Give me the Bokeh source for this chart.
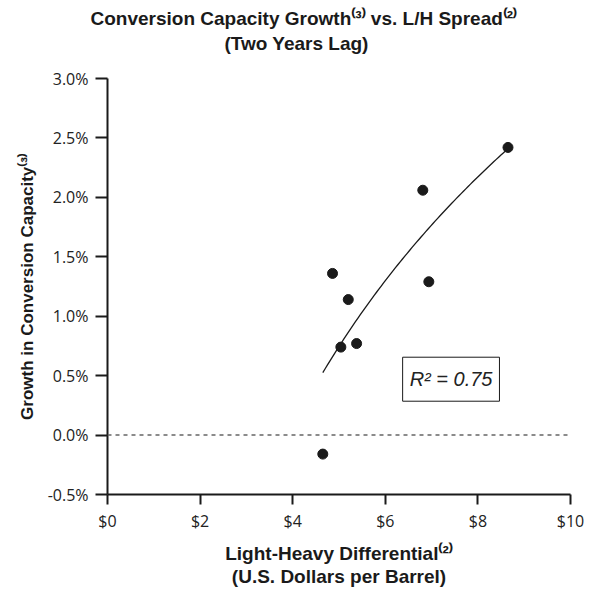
import numpy as np
from bokeh.plotting import figure
from bokeh.models import Range1d, Label, Span, PrintfTickFormatter, FixedTicker, Title
from bokeh.embed import file_html
from bokeh.resources import INLINE

# Data
spread = [4.86, 5.20, 5.04, 5.38, 8.65, 6.81, 6.94, 4.65]      # Light-heavy differential ($/bbl)
growth = [1.36, 1.14, 0.74, 0.77, 2.42, 2.06, 1.29, -0.16]     # Growth in conversion capacity (%)
x_ticks = [0, 2, 4, 6, 8, 10]
y_ticks = [-0.5, 0.0, 0.5, 1.0, 1.5, 2.0, 2.5, 3.0]
r2_text = "R\u00b2 = 0.75"
title_line1 = "Conversion Capacity Growth\u207d\u00b3\u207e vs. L/H Spread\u207d\u00b2\u207e"
title_line2 = "(Two Years Lag)"
x_title = "Light-Heavy Differential\u207d\u00b2\u207e\n(U.S. Dollars per Barrel)"
y_title = "Growth in Conversion Capacity\u207d\u00b3\u207e"

# logarithmic trend line fitted to the data
lx = np.log(np.array(spread))
b, a = np.polyfit(lx, np.array(growth), 1)
tx = np.linspace(min(spread), max(spread), 80)
ty = a + b * np.log(tx)

p = figure(width=591, height=595, output_backend="svg", toolbar_location=None,
           x_range=Range1d(0, 10), y_range=Range1d(-0.5, 3.0),
           min_border_left=107, min_border_right=21, min_border_top=78,
           min_border_bottom=101, title=None)
p.outline_line_color = None
p.xgrid.visible = False
p.ygrid.visible = False
p.background_fill_color = "white"
p.border_fill_color = "white"

tick_font = "Open Sans"
for ax in (p.xaxis[0], p.yaxis[0]):
    ax.axis_line_width = 2
    ax.axis_line_color = "#1a1a1a"
    ax.major_tick_line_width = 2
    ax.major_tick_line_color = "#1a1a1a"
    ax.major_tick_in = 0
    ax.minor_tick_line_color = None
    ax.major_label_text_font = tick_font
    ax.major_label_text_font_size = "16px"
    ax.major_label_text_color = "#222222"

p.xaxis.ticker = FixedTicker(ticks=x_ticks)
p.xaxis.formatter = PrintfTickFormatter(format="$%d")
p.xaxis.major_tick_out = 10
p.xaxis.major_label_standoff = 5
p.xaxis.axis_label = x_title
p.xaxis.axis_label_text_font = "Liberation Sans"
p.xaxis.axis_label_text_font_style = "bold"
p.xaxis.axis_label_text_font_size = "19px"
p.xaxis.axis_label_text_line_height = 1.1
p.xaxis.axis_label_text_color = "#1a1a1a"
p.xaxis.axis_label_standoff = 8

p.yaxis.ticker = FixedTicker(ticks=y_ticks)
p.yaxis.formatter = PrintfTickFormatter(format="%.1f%%")
p.yaxis.major_tick_out = 12
p.yaxis.major_label_standoff = 7
p.yaxis.axis_label = y_title
p.yaxis.axis_label_text_font = "Liberation Sans"
p.yaxis.axis_label_text_font_style = "bold"
p.yaxis.axis_label_text_font_size = "17px"
p.yaxis.axis_label_text_color = "#1a1a1a"
p.yaxis.axis_label_standoff = 8

# zero reference line
p.add_layout(Span(location=0, dimension="width", line_color="#666666",
                  line_width=1.5, line_dash="4 4"))

# trend line and points
p.line(tx, ty, line_color="#1a1a1a", line_width=1.3)
p.scatter(spread, growth, size=10, fill_color="#1a1a1a", line_color="#1a1a1a")

# R^2 box with shadow
common = dict(x=7.42, y=0.47, text=r2_text, text_align="center", text_baseline="middle",
              text_font="Liberation Sans", text_font_style="italic", text_font_size="20px",
              padding=(7, 11))
shadow = Label(text_alpha=0, background_fill_color="#555555", x_offset=3, y_offset=-3, **common)
box = Label(text_color="#222222", background_fill_color="white", border_line_color="#1a1a1a",
            border_line_width=1, **common)
p.add_layout(shadow)
p.add_layout(box)

# title lines: spacer closest to the plot, then line 2, then line 1
title_style = dict(text_font="Liberation Sans", text_font_style="bold", text_font_size="19px",
                   text_color="#1a1a1a", vertical_align="middle", standoff=2,
                   text_line_height=1.0)
spacer = Title(text=" ", text_font_size="10px", text_color="white", standoff=10)
t2 = Title(text=title_line2, align="left", offset=117, **title_style)
t1 = Title(text=title_line1, align="left", offset=-17, **title_style)
p.add_layout(spacer, "above")
p.add_layout(t2, "above")
p.add_layout(t1, "above")

open("out.html", "w").write(file_html(p, INLINE))
